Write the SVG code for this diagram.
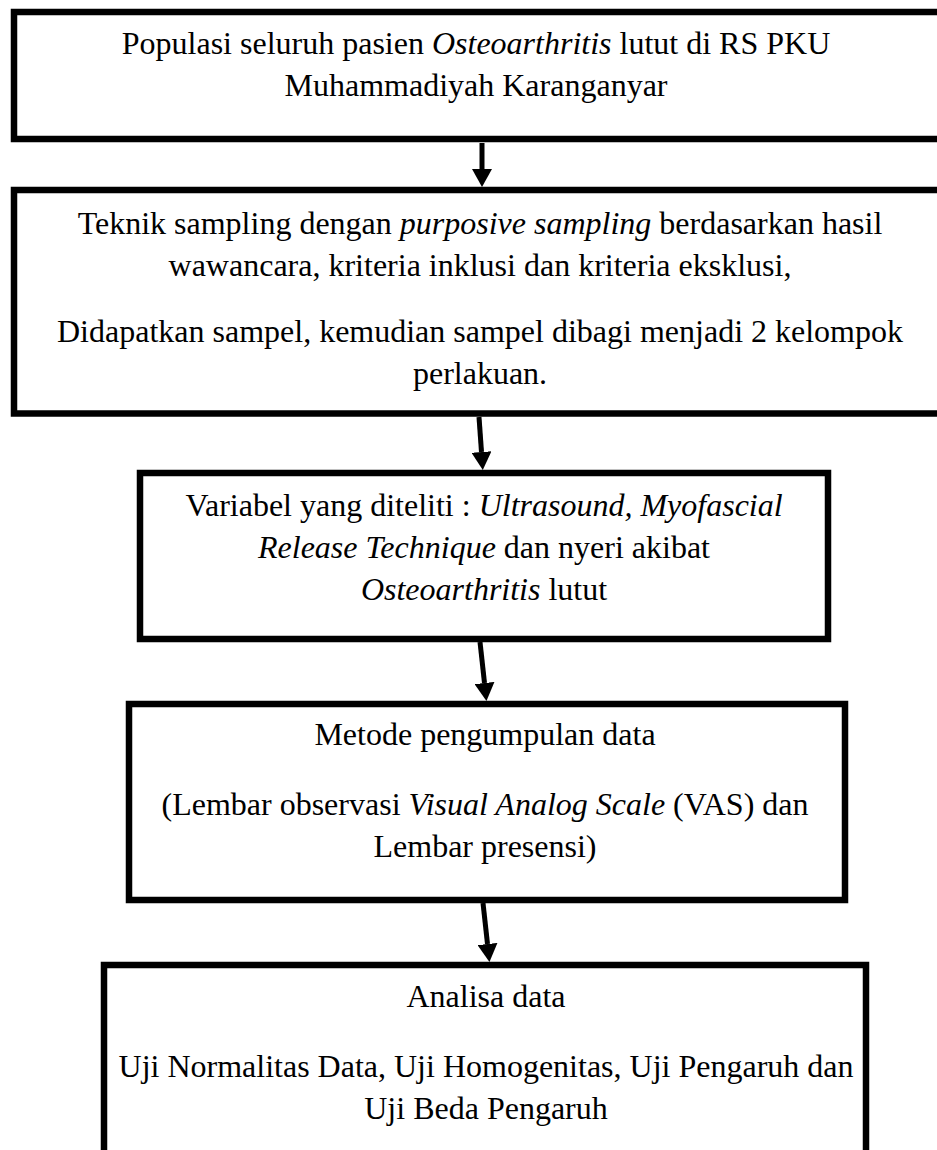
<svg xmlns="http://www.w3.org/2000/svg" width="937" height="1150" viewBox="0 0 937 1150">
  <style>
    .box { fill: #ffffff; stroke: #000000; stroke-width: 6.5; }
    .t { font-family: "Liberation Serif", "Times New Roman", serif; font-size: 32px; fill: #000000; text-anchor: middle; }
    .i { font-style: italic; }
    .conn { stroke: #000000; stroke-width: 5; fill: none; marker-end: url(#ah); }
  </style>
  <defs>
    <marker id="ah" viewBox="0 0 18 20" refX="0" refY="10" markerWidth="18" markerHeight="20" markerUnits="userSpaceOnUse" orient="auto">
      <path d="M0,0 L18,10 L0,20 z" fill="#000000"/>
    </marker>
  </defs>
  <rect width="937" height="1150" fill="#ffffff"/>

  <g id="node-populasi">
    <rect class="box" x="14" y="12" width="940" height="127"/>
    <text class="t" x="476" y="54">Populasi seluruh pasien <tspan class="i">Osteoarthritis</tspan> lutut di RS PKU</text>
    <text class="t" x="476" y="96">Muhammadiyah Karanganyar</text>
  </g>

  <g id="node-sampling">
    <rect class="box" x="14" y="190" width="940" height="223.5"/>
    <text class="t" x="480" y="234">Teknik sampling dengan <tspan class="i">purposive sampling</tspan> berdasarkan hasil</text>
    <text class="t" x="480" y="276">wawancara, kriteria inklusi dan kriteria eksklusi,</text>
    <text class="t" x="480" y="342">Didapatkan sampel, kemudian sampel dibagi menjadi 2 kelompok</text>
    <text class="t" x="480" y="384">perlakuan.</text>
  </g>

  <g id="node-variabel">
    <rect class="box" x="140" y="473" width="688" height="166"/>
    <text class="t" x="484" y="516">Variabel yang diteliti : <tspan class="i">Ultrasound, Myofascial</tspan></text>
    <text class="t" x="484" y="558"><tspan class="i">Release Technique</tspan> dan nyeri akibat</text>
    <text class="t" x="484" y="600"><tspan class="i">Osteoarthritis</tspan> lutut</text>
  </g>

  <g id="node-metode">
    <rect class="box" x="129" y="704" width="716" height="196"/>
    <text class="t" x="485" y="745">Metode pengumpulan data</text>
    <text class="t" x="485" y="815">(Lembar observasi <tspan class="i">Visual Analog Scale</tspan> (VAS) dan</text>
    <text class="t" x="485" y="857">Lembar presensi)</text>
  </g>

  <g id="node-analisa">
    <rect class="box" x="104" y="965" width="762" height="200"/>
    <text class="t" x="486" y="1007">Analisa data</text>
    <text class="t" x="486" y="1077">Uji Normalitas Data, Uji Homogenitas, Uji Pengaruh dan</text>
    <text class="t" x="486" y="1119">Uji Beda Pengaruh</text>
  </g>

  <g id="connectors">
    <line class="conn" x1="482" y1="143" x2="482" y2="169"/>
    <line class="conn" x1="479" y1="417" x2="481.5" y2="452"/>
    <line class="conn" x1="480" y1="642" x2="484.5" y2="683"/>
    <line class="conn" x1="483" y1="903" x2="487.5" y2="944"/>
  </g>
</svg>
